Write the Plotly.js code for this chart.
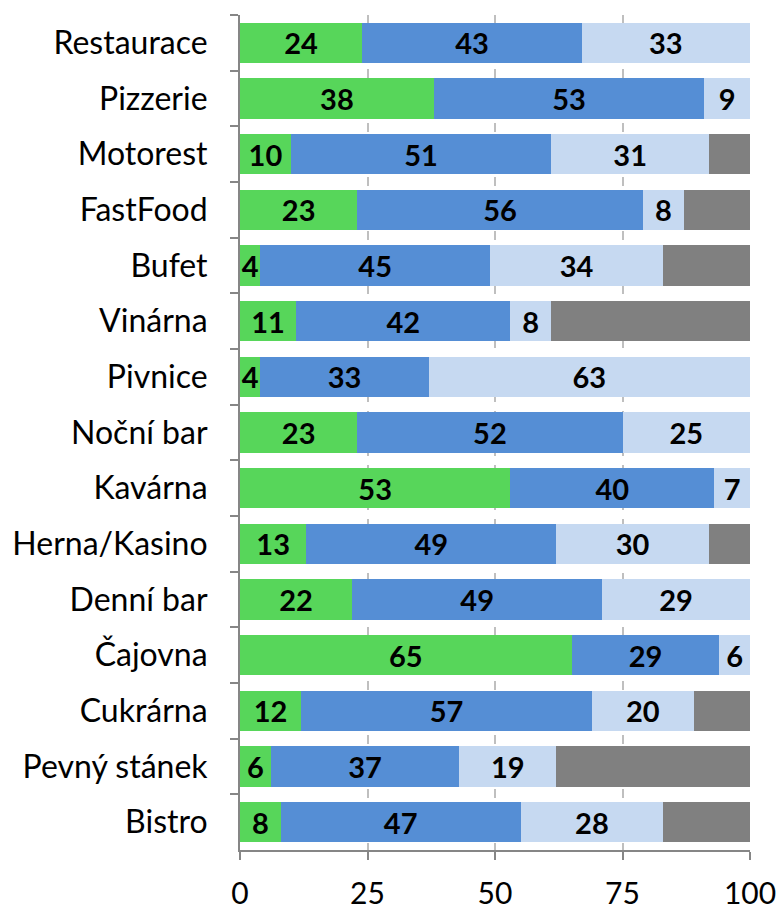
<!DOCTYPE html>
<html>
<head>
<meta charset="utf-8">
<script src="https://cdn.plot.ly/plotly-3.0.1.min.js"></script>
<style>html,body{margin:0;padding:0;background:#fff;}#chart{width:780px;height:909px;}</style>
</head>
<body>
<div id="chart"></div>
<script>
const categories = ["Restaurace","Pizzerie","Motorest","FastFood","Bufet","Vinárna","Pivnice","Noční bar","Kavárna","Herna/Kasino","Denní bar","Čajovna","Cukrárna","Pevný stánek","Bistro"];
const seriesGreen = [24,38,10,23,4,11,4,23,53,13,22,65,12,6,8];
const seriesBlue = [43,53,51,56,45,42,33,52,40,49,49,29,57,37,47];
const seriesLight = [33,9,31,8,34,8,63,25,7,30,29,6,20,19,28];
const seriesGray = [0,0,8,13,17,39,0.4,0.4,0,8,0.4,0,11,38,17];
const xTicks = [0,25,50,75,100];

const labelFont = {family: "Lato, 'DejaVu Sans', sans-serif", size: 29, color: "#000"};
function barTrace(vals, color, showText) {
  return {
    type: "bar", orientation: "h", y: categories, x: vals,
    marker: {color: color, line: {width: 0}},
    text: showText ? vals.map(String) : undefined,
    texttemplate: showText ? "<b>%{text}</b>" : undefined,
    textposition: showText ? "inside" : "none",
    insidetextanchor: "middle",
    textangle: 0,
    constraintext: "none",
    textfont: labelFont,
    hoverinfo: "none",
    showlegend: false
  };
}
const data = [
  barTrace(seriesGreen, "#57D65A", true),
  barTrace(seriesBlue, "#558ED5", true),
  barTrace(seriesLight, "#C6D9F1", true),
  barTrace(seriesGray, "#808080", false)
];
const layout = {
  width: 780, height: 909,
  margin: {l: 240, r: 30, t: 15, b: 59, pad: 0},
  barmode: "stack",
  bargap: 0.28,
  paper_bgcolor: "#fff", plot_bgcolor: "#fff",
  font: {family: "Lato, 'DejaVu Sans', sans-serif", size: 30, color: "#000"},
  xaxis: {
    range: [0, 100], tickvals: xTicks, ticktext: xTicks.map(String),
    showgrid: true, gridcolor: "#BFBFBF", griddash: "dash", gridwidth: 2,
    showline: true, linecolor: "#868686", linewidth: 2,
    ticks: "outside", ticklen: 8, tickwidth: 2, tickcolor: "#868686",
    zeroline: false, fixedrange: true,
    ticklabelstandoff: 8,
    tickfont: {size: 30}
  },
  yaxis: {
    type: "category", autorange: "reversed",
    showgrid: false, showline: true, linecolor: "#868686", linewidth: 2,
    ticks: "outside", tickson: "boundaries", ticklen: 8, tickwidth: 2, tickcolor: "#868686",
    ticklabelstandoff: 24,
    tickfont: {size: 32}, zeroline: false, fixedrange: true
  }
};
Plotly.newPlot("chart", data, layout, {displayModeBar: false, staticPlot: true});
</script>
</body>
</html>
